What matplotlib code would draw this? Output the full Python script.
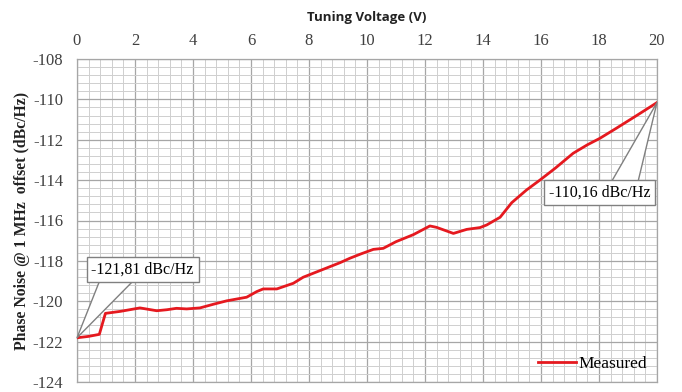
import matplotlib
matplotlib.use('Agg')
import matplotlib.pyplot as plt
from matplotlib.ticker import MultipleLocator

plt.rcParams['axes.unicode_minus'] = False

# measured phase noise vs tuning voltage
voltage = [0.0, 0.4, 0.77, 0.98, 1.5, 2.17, 2.75, 3.1, 3.43, 3.78, 4.24,
           4.7, 5.16, 5.85, 6.2, 6.42, 6.89, 7.46, 7.8, 8.4, 9.07, 9.41,
           9.8, 10.22, 10.56, 11.0, 11.6, 12.17, 12.4, 12.98, 13.44, 13.9,
           14.13, 14.59, 14.99, 15.5, 15.97, 16.5, 17.11, 17.6, 18.03,
           18.6, 19.3, 20.0]
noise = [-121.81, -121.74, -121.64, -120.6, -120.5, -120.33, -120.47,
         -120.42, -120.35, -120.38, -120.33, -120.15, -119.98, -119.8,
         -119.52, -119.39, -119.39, -119.11, -118.81, -118.47, -118.09,
         -117.87, -117.65, -117.43, -117.38, -117.05, -116.7, -116.27,
         -116.34, -116.64, -116.44, -116.35, -116.22, -115.84, -115.12,
         -114.49, -113.99, -113.4, -112.67, -112.25, -111.93, -111.43,
         -110.8, -110.16]

first_label = '-121,81 dBc/Hz'
last_label = '-110,16 dBc/Hz'

serif = 'Liberation Serif'
grid_major = '#a6a6a6'
grid_minor = '#cfcfcf'

fig = plt.figure(figsize=(6.82, 3.92), dpi=100)
ax = fig.add_axes([0.1129, 0.0255, 0.8504, 0.824])

ax.plot(voltage, noise, color='#e5191f', lw=2.0, label='Measured', zorder=3)

ax.set_xlim(0, 20)
ax.set_ylim(-124, -108)
ax.xaxis.set_major_locator(MultipleLocator(2))
ax.xaxis.set_minor_locator(MultipleLocator(0.4))
ax.yaxis.set_major_locator(MultipleLocator(2))
ax.yaxis.set_minor_locator(MultipleLocator(0.4))
ax.xaxis.tick_top()
ax.xaxis.set_label_position('top')

ax.grid(which='major', color=grid_major, lw=0.9, zorder=0)
ax.grid(which='minor', color=grid_minor, lw=0.7, zorder=0)
ax.set_axisbelow(True)
for s in ax.spines.values():
    s.set_color(grid_major)
    s.set_linewidth(0.9)

ax.tick_params(which='both', length=0)
ax.tick_params(which='major', labelsize=12, labelcolor='#404040')
ax.tick_params(axis='y', pad=10)
ax.tick_params(axis='x', pad=7)
for lbl in ax.get_xticklabels() + ax.get_yticklabels():
    lbl.set_family(serif)

ax.set_xlabel('Tuning Voltage (V)', fontsize=9.5, fontweight='bold',
              family='Open Sans', labelpad=9, color='#222222')
ax.set_ylabel('Phase Noise @ 1 MHz  offset (dBc/Hz)', fontsize=11.3,
              fontweight='bold', family=serif, labelpad=1.5, color='#222222')

# callouts for the end points
box = dict(boxstyle='square,pad=0.3', fc='white', ec='#808080', lw=1.0)
ax.annotate(first_label, xy=(voltage[0], noise[0]), xytext=(2.26, -118.43),
            textcoords='data', ha='center', va='center', fontsize=11.5,
            family=serif, bbox=box, annotation_clip=False, zorder=4,
            arrowprops=dict(arrowstyle='wedge,tail_width=2.0,shrink_factor=0.5',
                            fc='white', ec='#808080', lw=1.0, patchA=None,
                            shrinkA=0, shrinkB=0, relpos=(0.28, 0.35)))
ax.annotate(last_label, xy=(voltage[-1], noise[-1]), xytext=(18.03, -114.61),
            textcoords='data', ha='center', va='center', fontsize=11.5,
            family=serif, bbox=box, annotation_clip=False, zorder=4,
            arrowprops=dict(arrowstyle='wedge,tail_width=1.7,shrink_factor=0.5',
                            fc='white', ec='#808080', lw=1.0, patchA=None,
                            shrinkA=0, shrinkB=0, relpos=(0.72, 0.65)))

leg = ax.legend(loc='lower right', frameon=False, handlelength=2.2,
                handletextpad=0.15, borderaxespad=0.15,
                prop={'family': serif, 'size': 12.5})

fig.savefig('out.png', dpi=100)
